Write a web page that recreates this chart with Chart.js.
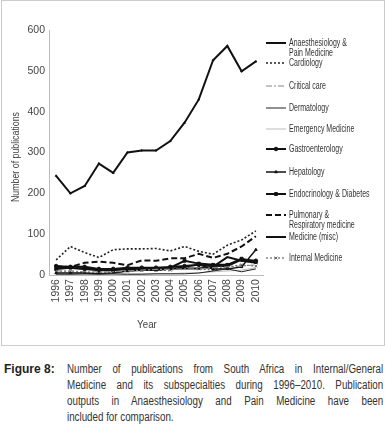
<!DOCTYPE html>
<html>
<head>
    <title>Figure 8</title>
    <script src="https://cdn.jsdelivr.net/npm/chart.js"></script>
    <style>
        body {
            margin: 0;
            background: #fff;
            font-family: "Liberation Sans", sans-serif;
        }
        #box {
            position: absolute;
            left: 1px;
            top: 0;
            width: 382px;
            height: 344px;
            border: 1px solid #ccc;
        }
        #box canvas {
            position: absolute;
            left: 0;
            top: 0;
        }
        #fig {
            position: absolute;
            left: 4px;
            top: 361px;
            font-size: 12px;
            line-height: 16px;
            font-weight: bold;
            color: #222;
        }
        #caption {
            position: absolute;
            left: 67px;
            top: 361px;
            width: 388px;
            font-size: 12px;
            line-height: 16px;
            color: #333;
            transform: scaleX(0.815);
            transform-origin: 0 0;
        }
        #caption div { text-align: justify; text-align-last: justify; }
        #caption div.last { text-align-last: left; }
    </style>
</head>
<body>
    <div id="box"><canvas id="chart" width="382" height="344"></canvas></div>
    <div id="fig">Figure 8:</div>
    <div id="caption">
        <div>Number of publications from South Africa in Internal/General</div>
        <div>Medicine and its subspecialties during 1996–2010. Publication</div>
        <div>outputs in Anaesthesiology and Pain Medicine have been</div>
        <div class="last">included for comparison.</div>
    </div>

    <script>
        const years = ['1996', '1997', '1998', '1999', '2000', '2001', '2002', '2003', '2004', '2005', '2006', '2007', '2008', '2009', '2010'];
        const yTicks = [0, 100, 200, 300, 400, 500, 600];

        const anaesthesiology = [243, 200, 218, 273, 250, 300, 305, 305, 328, 373, 430, 526, 561, 499, 523];
        const cardiology = [37, 70, 55, 43, 62, 64, 64, 65, 59, 70, 58, 51, 73, 86, 108];
        const criticalCare = [10, 10, 8, 8, 8, 10, 12, 14, 14, 15, 15, 18, 20, 22, 25];
        const dermatology = [2, 2, 3, 2, 3, 2, 2, 3, 3, 3, 5, 10, 15, 8, 15];
        const emergency = [0, 0, 1, 1, 2, 2, 3, 3, 3, 5, 5, 8, 10, 12, 18];
        const gastro = [22, 20, 20, 15, 15, 18, 18, 18, 20, 22, 25, 22, 22, 38, 35];
        const hepatology = [5, 5, 5, 3, 5, 10, 12, 12, 15, 20, 25, 15, 15, 20, 62];
        const endocrinology = [15, 18, 15, 12, 12, 15, 15, 15, 18, 35, 28, 25, 25, 40, 32];
        const pulmonary = [20, 20, 30, 33, 30, 24, 36, 35, 41, 41, 52, 42, 52, 70, 95];
        const medicineMisc = [18, 17, 16, 14, 14, 15, 15, 16, 16, 16, 16, 20, 44, 35, 30];
        const internal = [8, 8, 6, 5, 6, 10, 12, 12, 12, 18, 15, 12, 20, 25, 22];

        const FONT = '"Liberation Sans", sans-serif';

        // legend entries: label lines, y of first line
        const legendItems = [
            { lines: ['Anaesthesiology &', 'Pain Medicine'], y: 42 },
            { lines: ['Cardiology'], y: 62 },
            { lines: ['Critical care'], y: 85 },
            { lines: ['Dermatology'], y: 107 },
            { lines: ['Emergency Medicine'], y: 128 },
            { lines: ['Gastroenterology'], y: 148 },
            { lines: ['Hepatology'], y: 171 },
            { lines: ['Endocrinology & Diabetes'], y: 193 },
            { lines: ['Pulmonary &', 'Respiratory medicine'], y: 214 },
            { lines: ['Medicine (misc)'], y: 236 },
            { lines: ['Internal Medicine'], y: 257 }
        ];

        function ds(data, color, width, dash, point, radius) {
            return {
                data: data,
                borderColor: color,
                backgroundColor: color,
                borderWidth: width,
                borderDash: dash,
                pointStyle: point || 'circle',
                pointRadius: point ? radius : 0,
                pointBorderWidth: 1,
                tension: 0
            };
        }

        const datasets = [
            ds(anaesthesiology, '#111', 2, [], 'triangle', 1),
            ds(cardiology, '#222', 1.6, [2, 2], null, 0),
            ds(criticalCare, '#888', 1.2, [6, 2, 2, 2], null, 0),
            ds(dermatology, '#222', 1, [], null, 0),
            ds(emergency, '#bbb', 1, [], null, 0),
            ds(gastro, '#111', 2, [], 'circle', 1.8),
            ds(hepatology, '#111', 1.5, [], 'triangle', 1.5),
            ds(endocrinology, '#111', 2, [], 'rect', 2),
            ds(pulmonary, '#111', 2, [6, 3], null, 0),
            ds(medicineMisc, '#111', 2, [], null, 0),
            ds(internal, '#666', 1.2, [2, 2], 'crossRot', 2)
        ];

        // narrow text: squeeze horizontally
        function narrowText(ctx, text, x, y, sx) {
            ctx.save();
            ctx.translate(x, y);
            ctx.scale(sx, 1);
            ctx.fillText(text, 0, 0);
            ctx.restore();
        }

        // legend at the right, and the axis titles
        const sideLegend = {
            id: 'sideLegend',
            afterDraw(chart) {
                const ctx = chart.ctx;
                ctx.save();
                ctx.font = '10px ' + FONT;
                ctx.textBaseline = 'middle';
                legendItems.forEach((item, i) => {
                    const d = datasets[i];
                    const x0 = 264, x1 = 284;
                    ctx.strokeStyle = d.borderColor;
                    ctx.lineWidth = d.borderWidth;
                    ctx.setLineDash(d.borderDash);
                    ctx.beginPath();
                    ctx.moveTo(x0, item.y);
                    ctx.lineTo(x1, item.y);
                    ctx.stroke();
                    ctx.setLineDash([]);
                    if (d.pointRadius > 0) {
                        ctx.fillStyle = d.borderColor;
                        ctx.strokeStyle = d.borderColor;
                        ctx.lineWidth = 1;
                        Chart.helpers.drawPoint(ctx, {
                            pointStyle: d.pointStyle,
                            radius: d.pointRadius,
                            borderWidth: 1
                        }, (x0 + x1) / 2, item.y);
                    }
                    ctx.fillStyle = '#333';
                    item.lines.forEach((t, j) => narrowText(ctx, t, 287, item.y + j * 10, 0.7));
                });

                // y title
                ctx.font = '11px ' + FONT;
                ctx.fillStyle = '#444';
                ctx.textAlign = 'center';
                ctx.save();
                ctx.translate(14, 156);
                ctx.rotate(-Math.PI / 2);
                ctx.scale(0.8, 1);
                ctx.fillText('Number of publications', 0, 0);
                ctx.restore();

                // x title
                ctx.font = '11.5px ' + FONT;
                narrowText(ctx, 'Year', 145, 324, 0.85);
                ctx.restore();
            }
        };

        new Chart(document.getElementById('chart'), {
            type: 'line',
            data: { labels: years, datasets: datasets },
            options: {
                responsive: false,
                animation: false,
                layout: { padding: { top: 29, right: 121, left: 3, bottom: 38.6 } },
                plugins: { legend: { display: false }, tooltip: { enabled: false } },
                scales: {
                    x: {
                        offset: true,
                        grid: { display: false, drawTicks: false },
                        border: { color: '#bbb' },
                        ticks: {
                            minRotation: 90, maxRotation: 90, autoSkip: false,
                            padding: 4,
                            color: '#444',
                            font: { family: FONT, size: 10.5 }
                        }
                    },
                    y: {
                        min: 0, max: 600,
                        afterBuildTicks(scale) { scale.ticks = yTicks.map(v => ({ value: v })); },
                        grid: { display: false, drawTicks: false },
                        border: { color: '#bbb' },
                        ticks: {
                            padding: 4, color: '#444',
                            font: { family: FONT, size: 10.5 }
                        },
                        afterFit(scale) { scale.width = 44; }
                    }
                }
            },
            plugins: [sideLegend]
        });
    </script>
</body>
</html>
